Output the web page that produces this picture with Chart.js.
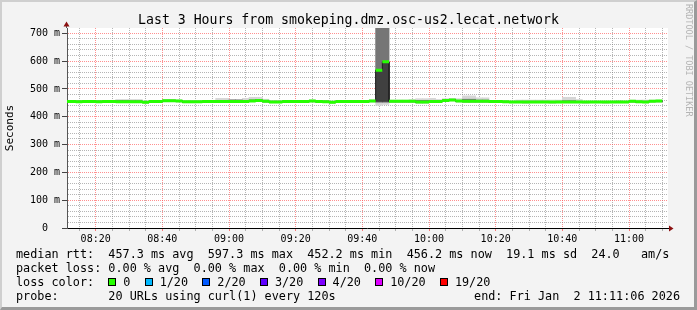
<!DOCTYPE html>
<html>
<head>
<meta charset="utf-8">
<title>smokeping</title>
<script src="https://cdn.jsdelivr.net/npm/chart.js"></script>
<style>
  html, body { margin: 0; padding: 0; background: #f3f3f3; }
  #graph { position: relative; width: 697px; height: 310px; background: #f3f3f3; overflow: hidden;
           font-family: 'DejaVu Sans Mono', monospace; color: #000; }
  #graph canvas { position: absolute; left: 0; top: 0; }
  #edge { position: absolute; left: 0; top: 0; width: 697px; height: 310px; box-sizing: border-box;
          border-style: solid; border-width: 2px 3px 3px 2px;
          border-color: #cfcfcf #9a9a9a #9a9a9a #cfcfcf; pointer-events: none; }
  #title { position: absolute; left: 0; top: 12px; width: 697px; text-align: center;
           font-size: 13.2px; line-height: 16px; white-space: pre; }
  #wm { position: absolute; left: 684px; top: 4px; writing-mode: vertical-rl; font-size: 8.5px;
        line-height: 9px; color: #b4b4b4; white-space: pre; }
  #legend { position: absolute; left: 16px; top: 247px; font-size: 11.8px; line-height: 14px;
            white-space: pre; margin: 0; font-family: inherit; }
  #legend i { display: inline-block; width: 6px; height: 6px; border: 1px solid #000; margin-right: 7px; }
  #end { position: absolute; right: 17px; top: 289px; font-size: 11.8px; line-height: 14px; white-space: pre; }
</style>
</head>
<body>
<div id="graph">
  <canvas id="chart" width="697" height="310"></canvas>
  <div id="title">Last 3 Hours from smokeping.dmz.osc-us2.lecat.network</div>
  <div id="wm">RRDTOOL / TOBI OETIKER</div>
  <pre id="legend"></pre>
  <div id="end">end: Fri Jan  2 11:11:06 2026</div>
  <div id="edge"></div>
</div>
<script>
// end of each 120 s step
const times = [
    '08:12','08:14','08:16','08:18','08:20','08:22','08:24','08:26','08:28','08:30',
    '08:32','08:34','08:36','08:38','08:40','08:42','08:44','08:46','08:48','08:50',
    '08:52','08:54','08:56','08:58','09:00','09:02','09:04','09:06','09:08','09:10',
    '09:12','09:14','09:16','09:18','09:20','09:22','09:24','09:26','09:28','09:30',
    '09:32','09:34','09:36','09:38','09:40','09:42','09:44','09:46','09:48','09:50',
    '09:52','09:54','09:56','09:58','10:00','10:02','10:04','10:06','10:08','10:10',
    '10:12','10:14','10:16','10:18','10:20','10:22','10:24','10:26','10:28','10:30',
    '10:32','10:34','10:36','10:38','10:40','10:42','10:44','10:46','10:48','10:50',
    '10:52','10:54','10:56','10:58','11:00','11:02','11:04','11:06','11:08','11:10'
];

// median rtt (ms)
const median = [
    454.5, 454.4, 454.2, 454.6, 454.4, 454.3, 454.7, 454.4, 454.2, 454.0,
    453.9, 454.1, 452.2, 454.4, 454.7, 457.8, 457.5, 456.3, 453.7, 453.5,
    453.9, 454.4, 454.6, 455.0, 454.8, 454.7, 454.4, 455.2, 457.0, 458.6,
    455.9, 453.3, 453.4, 454.7, 454.8, 454.5, 454.6, 456.8, 454.9, 454.2,
    452.4, 454.4, 454.6, 454.8, 454.5, 454.7, 456.9, 567.1, 597.3, 455.7,
    455.5, 455.8, 455.4, 452.6, 452.8, 454.8, 455.0, 458.4, 460.6, 456.7,
    455.6, 455.4, 455.8, 455.5, 454.7, 454.4, 453.6, 453.0, 453.2, 452.9,
    453.1, 453.3, 453.0, 452.8, 453.2, 453.1, 453.4, 453.0, 452.9, 453.2,
    453.1, 452.8, 453.0, 453.3, 453.1, 455.7, 453.6, 453.4, 456.0, 456.2
];

// smoke: outer (light), middle and inner (dark) ping spread, ms
const smokeLo = [
    451, 451, 451, 451, 451, 451, 451, 451, 451, 451,
    451, 451, 449, 451, 451, 454, 454, 453, 450, 450,
    451, 451, 451, 452, 452, 451, 451, 452, 454, 455,
    452, 450, 450, 451, 451, 451, 451, 453, 451, 451,
    449, 451, 451, 451, 451, 451, 453, 441, 444, 452,
    452, 452, 452, 449, 449, 451, 451, 455, 457, 453,
    452, 452, 452, 452, 451, 451, 450, 450, 450, 449,
    450, 450, 450, 449, 450, 450, 450, 450, 449, 450,
    450, 449, 450, 450, 450, 452, 450, 450, 452, 452
];
const smokeHi = [
    459, 459, 458, 459, 459, 458, 459, 459, 462, 462,
    462, 462, 457, 459, 459, 462, 462, 461, 458, 458,
    458, 459, 459, 466, 466, 460, 459, 466, 470, 470,
    463, 458, 458, 459, 459, 459, 459, 461, 459, 458,
    457, 459, 459, 459, 459, 459, 461, 760, 760, 460,
    460, 460, 462, 465, 465, 466, 462, 465, 465, 465,
    475, 475, 468, 468, 459, 459, 458, 457, 460, 460,
    460, 460, 460, 460, 460, 470, 470, 462, 457, 457,
    457, 457, 457, 457, 457, 460, 460, 460, 460, 460
];
const midLo = [
    452, 452, 452, 452, 452, 452, 452, 452, 452, 452,
    452, 452, 450, 452, 452, 455, 455, 454, 451, 451,
    452, 452, 452, 453, 453, 452, 452, 453, 455, 456,
    453, 451, 451, 452, 452, 452, 452, 454, 452, 452,
    450, 452, 452, 452, 452, 452, 454, 452, 452, 453,
    453, 453, 453, 450, 450, 452, 453, 456, 458, 454,
    453, 453, 453, 453, 452, 452, 451, 451, 451, 450,
    451, 451, 451, 450, 451, 451, 451, 451, 450, 451,
    451, 450, 451, 451, 451, 453, 451, 451, 454, 454
];
const midHi = [
    457, 457, 456, 457, 457, 456, 457, 457, 458, 458,
    458, 458, 455, 457, 457, 460, 460, 459, 456, 456,
    456, 457, 457, 459, 459, 461, 461, 459, 461, 462,
    459, 456, 456, 457, 457, 457, 457, 459, 457, 456,
    455, 457, 457, 457, 457, 457, 459, 760, 760, 458,
    458, 458, 458, 459, 459, 459, 458, 461, 463, 459,
    463, 463, 460, 460, 457, 457, 456, 455, 456, 456,
    456, 456, 456, 455, 456, 458, 458, 456, 455, 455,
    455, 455, 455, 456, 455, 458, 456, 456, 458, 458
];
const coreLo = [
    453, 453, 453, 453, 453, 453, 453, 453, 453, 453,
    453, 453, 451, 453, 453, 456, 456, 455, 452, 452,
    453, 453, 453, 454, 454, 453, 453, 454, 456, 457,
    455, 452, 452, 453, 453, 453, 453, 455, 453, 453,
    451, 453, 453, 453, 453, 453, 455, 455, 455, 454,
    454, 454, 454, 451, 451, 453, 454, 457, 459, 455,
    454, 454, 454, 454, 453, 453, 452, 452, 452, 452,
    452, 452, 452, 452, 452, 452, 452, 452, 452, 452,
    452, 452, 452, 452, 452, 454, 452, 452, 455, 455
];
const coreHi = [
    456, 456, 456, 456, 456, 456, 456, 456, 456, 456,
    455, 455, 454, 456, 456, 459, 459, 458, 455, 455,
    455, 456, 456, 456, 456, 456, 456, 456, 458, 460,
    457, 455, 455, 456, 456, 456, 456, 458, 456, 456,
    454, 456, 456, 456, 456, 456, 458, 567.1, 597.3, 457,
    457, 457, 457, 454, 454, 456, 456, 460, 462, 458,
    457, 457, 457, 457, 456, 456, 455, 454, 454, 454,
    454, 454, 454, 454, 454, 454, 455, 454, 454, 454,
    454, 454, 454, 454, 454, 457, 455, 455, 457, 457
];

const xTickLabels = ['08:20', '08:40', '09:00', '09:20', '09:40', '10:00', '10:20', '10:40', '11:00'];
const yTickLabels = ['0', '100 m', '200 m', '300 m', '400 m', '500 m', '600 m', '700 m'];
const lossLabels = ['0', '1/20', '2/20', '3/20', '4/20', '10/20', '19/20'];
const lossColors = ['#26ff00', '#00b8ff', '#0059ff', '#5e00ff', '#7e00ff', '#dd00ff', '#ff0000'];

// legend rows
const legendRows = [
    'median rtt:  457.3 ms avg  597.3 ms max  452.2 ms min  456.2 ms now  19.1 ms sd  24.0   am/s',
    'packet loss: 0.00 % avg  0.00 % max  0.00 % min  0.00 % now',
    'loss color:  ' + lossLabels.map((l, i) => `<i style="background:${lossColors[i]}"></i>${l}`).join('  '),
    'probe:       20 URLs using curl(1) every 120s'
];
document.getElementById('legend').innerHTML = legendRows.join('\n');

const STEP = 2; // minutes
const toMin = s => { const [h, m] = s.split(':').map(Number); return h * 60 + m; };
const ends = times.map(toMin);
const fmt = v => String(Math.floor(v / 60)).padStart(2, '0') + ':' + String(v % 60).padStart(2, '0');

const MAJOR = 'rgba(255, 70, 70, 0.6)';
const MINOR = 'rgba(120, 120, 120, 0.55)';

const smoke = (lo, hi, color, order) => ({
    type: 'bar',
    data: ends.map((t, i) => ({ x: t - STEP / 2, y: [lo[i], hi[i]] })),
    backgroundColor: color,
    borderWidth: 0,
    grouped: false,
    barPercentage: 1,
    categoryPercentage: 1,
    order
});

const frame = {
    id: 'frame',
    beforeDraw(chart) {
        const { ctx, chartArea: a } = chart;
        ctx.save();
        ctx.fillStyle = '#ffffff';
        ctx.fillRect(a.left, a.top, a.right - a.left + 1, a.bottom - a.top);
        ctx.restore();
    },
    afterDraw(chart) {
        const { ctx, chartArea: a } = chart;
        ctx.save();
        ctx.lineWidth = 1;
        ctx.strokeStyle = '#000';
        ctx.beginPath();
        ctx.moveTo(a.right, a.bottom + 0.5);
        ctx.lineTo(a.right + 3, a.bottom + 0.5);
        ctx.stroke();
        ctx.strokeStyle = '#555';
        ctx.beginPath();
        ctx.moveTo(a.left - 0.5, a.top);
        ctx.lineTo(a.left - 0.5, a.top - 3);
        ctx.stroke();
        ctx.fillStyle = '#8b1111';
        ctx.beginPath();
        ctx.moveTo(a.right + 2, a.bottom - 2.5);
        ctx.lineTo(a.right + 6.5, a.bottom + 0.5);
        ctx.lineTo(a.right + 2, a.bottom + 3.5);
        ctx.fill();
        ctx.beginPath();
        ctx.moveTo(a.left - 3.5, a.top - 1.5);
        ctx.lineTo(a.left - 0.5, a.top - 6.5);
        ctx.lineTo(a.left + 2.5, a.top - 1.5);
        ctx.fill();
        ctx.restore();
    }
};

Chart.defaults.font.family = "'DejaVu Sans Mono', monospace";
Chart.defaults.color = '#000';

new Chart(document.getElementById('chart'), {
    type: 'bar',
    data: {
        datasets: [
            {
                type: 'line',
                data: ends.flatMap((t, i) => [{ x: t - STEP, y: median[i] }, { x: t, y: median[i] }, { x: t, y: null }]),
                borderColor: lossColors[0],
                borderWidth: 3,
                pointRadius: 0,
                spanGaps: false,
                order: 0
            },
            {
                type: 'line',
                data: ends.flatMap((t, i) => [{ x: t - STEP, y: median[i] }, { x: t, y: median[i] }]),
                borderColor: '#202020',
                borderWidth: 1,
                pointRadius: 0,
                order: 1
            },
            smoke(coreLo, coreHi, '#404040', 2),
            smoke(midLo, midHi, '#767676', 3),
            smoke(smokeLo, smokeHi, '#d6d6d6', 4)
        ]
    },
    options: {
        responsive: false,
        animation: false,
        devicePixelRatio: 1,
        layout: { padding: { top: 28, right: 30, left: 0, bottom: 0 } },
        plugins: { legend: { display: false }, tooltip: { enabled: false } },
        scales: {
            x: {
                type: 'linear',
                min: 491.4,
                max: 671.4,
                offset: false,
                afterBuildTicks: s => {
                    s.ticks = [];
                    for (let v = 495; v <= 670; v += 5) s.ticks.push({ value: v });
                },
                afterFit: s => { s.height = 82; },
                grid: {
                    offset: false,
                    color: c => (c.tick && c.tick.value % 20 === 0 ? MAJOR : MINOR),
                    tickColor: c => (c.tick && c.tick.value % 20 === 0 ? 'rgba(255,0,0,0.5)' : MINOR),
                    tickLength: 3
                },
                border: { color: '#000', dash: [1, 1] },
                ticks: {
                    autoSkip: false,
                    maxRotation: 0,
                    minRotation: 0,
                    padding: 2,
                    font: { size: 10 },
                    callback: v => (xTickLabels.includes(fmt(v)) ? fmt(v) : '')
                }
            },
            y: {
                min: 0,
                max: 719,
                afterBuildTicks: s => {
                    s.ticks = [];
                    for (let v = 0; v <= 700; v += 20) s.ticks.push({ value: v });
                },
                afterFit: s => { s.width = 67; },
                grid: {
                    color: c => (c.tick && c.tick.value % 100 === 0 ? MAJOR : MINOR),
                    tickColor: c => (c.tick && c.tick.value % 100 === 0 ? '#444' : 'rgba(0,0,0,0)'),
                    tickLength: 5
                },
                border: { color: '#555', dash: [1, 1] },
                title: {
                    display: true,
                    text: 'Seconds',
                    font: { size: 11 },
                    padding: { top: 4, bottom: 0 }
                },
                ticks: {
                    autoSkip: false,
                    padding: 2,
                    font: { size: 10 },
                    callback: v => {
                        if (v % 100 !== 0) return '';
                        const l = yTickLabels[v / 100];
                        return l.includes(' ') ? l : l + '  ';
                    }
                }
            }
        }
    },
    plugins: [frame]
});
</script>
</body>
</html>
